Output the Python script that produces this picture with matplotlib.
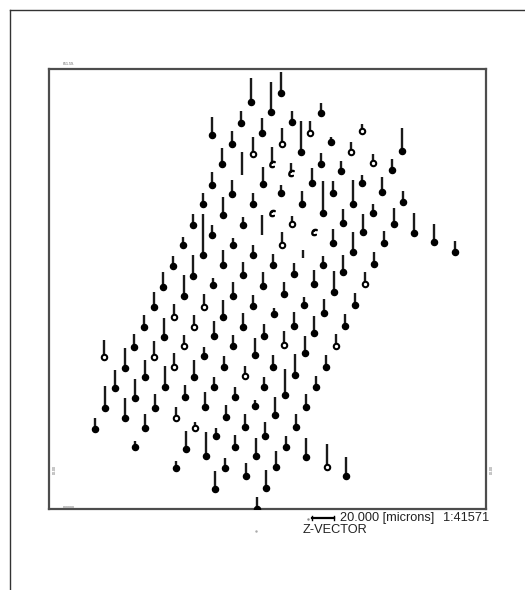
import matplotlib
matplotlib.use("Agg")
import matplotlib.pyplot as plt
from matplotlib.lines import Line2D
import numpy as np

plt.rcParams['font.family'] = ['Liberation Sans', 'DejaVu Sans']

# Probe positions (x, y in image-plane units, y downward) and Z-vector lengths
X = [251, 271, 241, 262, 212, 232, 253, 222, 242, 272, 263, 212, 232, 203, 223, 253, 272, 262, 193, 212,
     203, 243, 183, 233, 253, 273, 173, 193, 223, 243, 163, 213, 263,
     154, 184, 204, 233, 253, 274, 174, 223, 144, 164, 194, 214, 243, 264, 134, 184, 233, 104, 154, 204,
     255, 125, 174, 224, 273, 145, 194, 245, 115, 165, 214, 264, 135, 185, 235, 105, 155, 205, 255, 125,
     176, 226, 275, 95, 145, 195, 245, 265, 216, 135, 186, 206, 235, 256, 176, 225, 246, 215, 266, 257, 276,
     284, 334, 304, 355, 294, 324, 345, 314, 284, 305, 336, 295, 326, 285, 316, 306, 296, 286, 306, 327, 346,
     281, 321, 292, 310, 301, 282, 331, 362, 351, 321, 402, 373, 341, 392, 291, 312, 281, 323, 333, 362,
     353, 382, 302, 373, 403, 292, 314, 343, 363, 394, 414, 434, 455, 282, 303, 333, 353, 384, 294, 323,
     343, 374, 314, 365]
Y = [102, 112, 123, 133, 135, 144, 154, 164, 175, 164, 184, 185, 194, 204, 215, 204, 213, 235, 225, 235,
     255, 225, 245, 245, 255, 265, 266, 276, 265, 275, 287, 285, 286,
     307, 296, 307, 296, 306, 314, 317, 317, 327, 337, 327, 336, 327, 336, 347, 346, 346, 357, 357, 356,
     355, 368, 367, 367, 367, 377, 377, 376, 388, 387, 387, 387, 398, 397, 397, 408, 408, 407, 406, 418,
     418, 417, 415, 429, 428, 428, 427, 436, 436, 447, 449, 456, 447, 456, 468, 468, 476, 489, 488, 509, 467,
     294, 292, 305, 305, 326, 313, 326, 333, 345, 353, 346, 375, 367, 395, 387, 407, 427, 447, 457, 467, 476,
     93, 113, 122, 133, 152, 144, 142, 131, 152, 164, 151, 163, 171, 170, 173, 183, 193, 213, 193, 183,
     204, 192, 204, 213, 202, 224, 232, 223, 232, 224, 233, 242, 252, 245, 258, 243, 252, 243, 274, 265,
     272, 264, 284, 284]
DZ = [24, 30, 12, 15, 18, 13, 17, 16, 23, 17, 17, 13, 14, 11, 18, 11, 2, 20, 11, 10,
      41, 8, 8, 7, 10, 11, 10, 21, 15, 13, 15, 7, 14,
      15, 21, 13, 14, 11, 6, 13, 17, 12, 19, 12, 15, 14, 12, 13, 11, 11, 17, 16, 9,
      17, 20, 14, 11, 12, 17, 17, 10, 18, 21, 10, 10, 19, 12, 10, 22, 14, 15, 6, 20,
      11, 12, 18, 11, 14, 6, 13, 14, 8, 6, 18, 24, 12, 18, 7, 10, 13, 18, 18, 12, 16,
      12, 21, 8, 12, 14, 14, 12, 17, 14, 17, 12, 21, 12, 26, 11, 13, 13, 11, 19, 23, 19,
      21, 10, 11, 12, 31, 16, 5, 7, 10, 11, 23, 9, 10, 11, 10, 15, 8, 32, 12, 8,
      24, 15, 13, 9, 11, 8, 1, 14, 18, 16, 20, 18, 11, 13, 8, 14, 20, 12, 11, 9,
      17, 12, 14, 12]
# marker style per probe: f = filled, h = hollow, n = none, c = open hook
KIND = ['f', 'f', 'f', 'f', 'f', 'f', 'h', 'f', 'n', 'c', 'f', 'f', 'f', 'f', 'f', 'f', 'c', 'n', 'f', 'f',
        'f', 'f', 'f', 'f', 'f', 'f', 'f', 'f', 'f', 'f', 'f', 'f', 'f',
        'f', 'f', 'h', 'f', 'f', 'f', 'h', 'f', 'f', 'f', 'h', 'f', 'f', 'f', 'f', 'h', 'f', 'h', 'h', 'f',
        'f', 'f', 'h', 'f', 'f', 'f', 'f', 'h', 'f', 'f', 'f', 'f', 'f', 'f', 'f', 'f', 'f', 'f', 'f', 'f',
        'h', 'f', 'f', 'f', 'f', 'h', 'f', 'f', 'f', 'f', 'f', 'f', 'f', 'f', 'f', 'f', 'f', 'f', 'f', 'f', 'f',
        'f', 'f', 'f', 'f', 'f', 'f', 'f', 'f', 'h', 'f', 'h', 'f', 'f', 'f', 'f', 'f', 'f', 'f', 'f', 'h', 'f',
        'f', 'f', 'f', 'h', 'f', 'h', 'f', 'h', 'h', 'f', 'f', 'h', 'f', 'f', 'c', 'f', 'f', 'f', 'f', 'f',
        'f', 'f', 'f', 'f', 'f', 'h', 'c', 'f', 'f', 'f', 'f', 'f', 'f', 'h', 'n', 'f', 'f', 'f', 'f', 'f',
        'f', 'f', 'f', 'h']

SCALE_LABEL = "20.000 [microns]"
RATIO_LABEL = "1:41571"
TITLE = "Z-VECTOR"
SCALE_LEN = 21.6  # length of 20 microns in plot units

W, H = 525, 590
fig = plt.figure(figsize=(W / 100, H / 100), dpi=100)
fig.patch.set_facecolor('white')

x0, x1, y0, y1 = 49, 486, 69, 509
ax = fig.add_axes([x0 / W, 1 - y1 / H, (x1 - x0) / W, (y1 - y0) / H])
ax.set_xlim(x0, x1)
ax.set_ylim(y1, y0)
ax.set_xticks([])
ax.set_yticks([])
for s in ax.spines.values():
    s.set_color('#4d4d4d')
    s.set_linewidth(1.6)

X = np.array(X, float)
Y = np.array(Y, float)
DZ = np.array(DZ, float)
KIND = np.array(KIND)

ax.vlines(X, Y - DZ, Y, colors='#1a1a1a', linewidth=1.7, zorder=2)
m = KIND == 'f'
ax.plot(X[m], Y[m], 'o', color='black', markersize=4.4, zorder=3)
m = KIND == 'h'
ax.plot(X[m], Y[m], 'o', color='black', markersize=4.4, zorder=3)
ax.plot(X[m], Y[m], 'o', color='white', markersize=1.4, zorder=4)
m = KIND == 'c'
ax.plot(X[m], Y[m], marker='$c$', linestyle='none', color='black', markersize=4.5, zorder=3)

# outer page border
fig.add_artist(Line2D([10 / W, 1], [1 - 10 / H, 1 - 10 / H], color='#333333', lw=1.0))
fig.add_artist(Line2D([10 / W, 10 / W], [0, 1 - 10 / H], color='#333333', lw=1.0))

# tiny corner labels
fig.text(63 / W, 1 - 64 / H, "851.59.", fontsize=2.5, color='#555555', va='center')
fig.text(63 / W, 1 - 508 / H, "000000.", fontsize=2.5, color='#555555', va='center')
fig.text(53 / W, 1 - 470 / H, "00.00", fontsize=2.5, color='#555555', rotation=90, va='center')
fig.text(490 / W, 1 - 470 / H, "00.00", fontsize=2.5, color='#555555', rotation=90, va='center')

# scale bar
sx = 312
sy = 518
bx = fig.add_axes([0, 0, 1, 1], facecolor='none')
bx.set_xlim(0, W)
bx.set_ylim(H, 0)
bx.axis('off')
bx.plot([sx, sx + SCALE_LEN], [sy, sy], color='black', lw=1.6)
bx.plot([sx, sx], [sy - 2, sy + 2], color='black', lw=1.0)
bx.plot([sx + SCALE_LEN, sx + SCALE_LEN], [sy - 2, sy + 2], color='black', lw=1.0)
bx.plot([308], [519], '.', color='#888888', markersize=1.5)
bx.plot([256], [531], '.', color='#aaaaaa', markersize=1.5)
bx.text(340, sy, SCALE_LABEL, fontsize=9.2, color='#222222', va='center', ha='left')
bx.text(489, sy, RATIO_LABEL, fontsize=9.2, color='#222222', va='center', ha='right')
bx.text(303, 530, TITLE, fontsize=9.2, color='#222222', va='center', ha='left')

fig.savefig("out.png", dpi=100, facecolor='white')
